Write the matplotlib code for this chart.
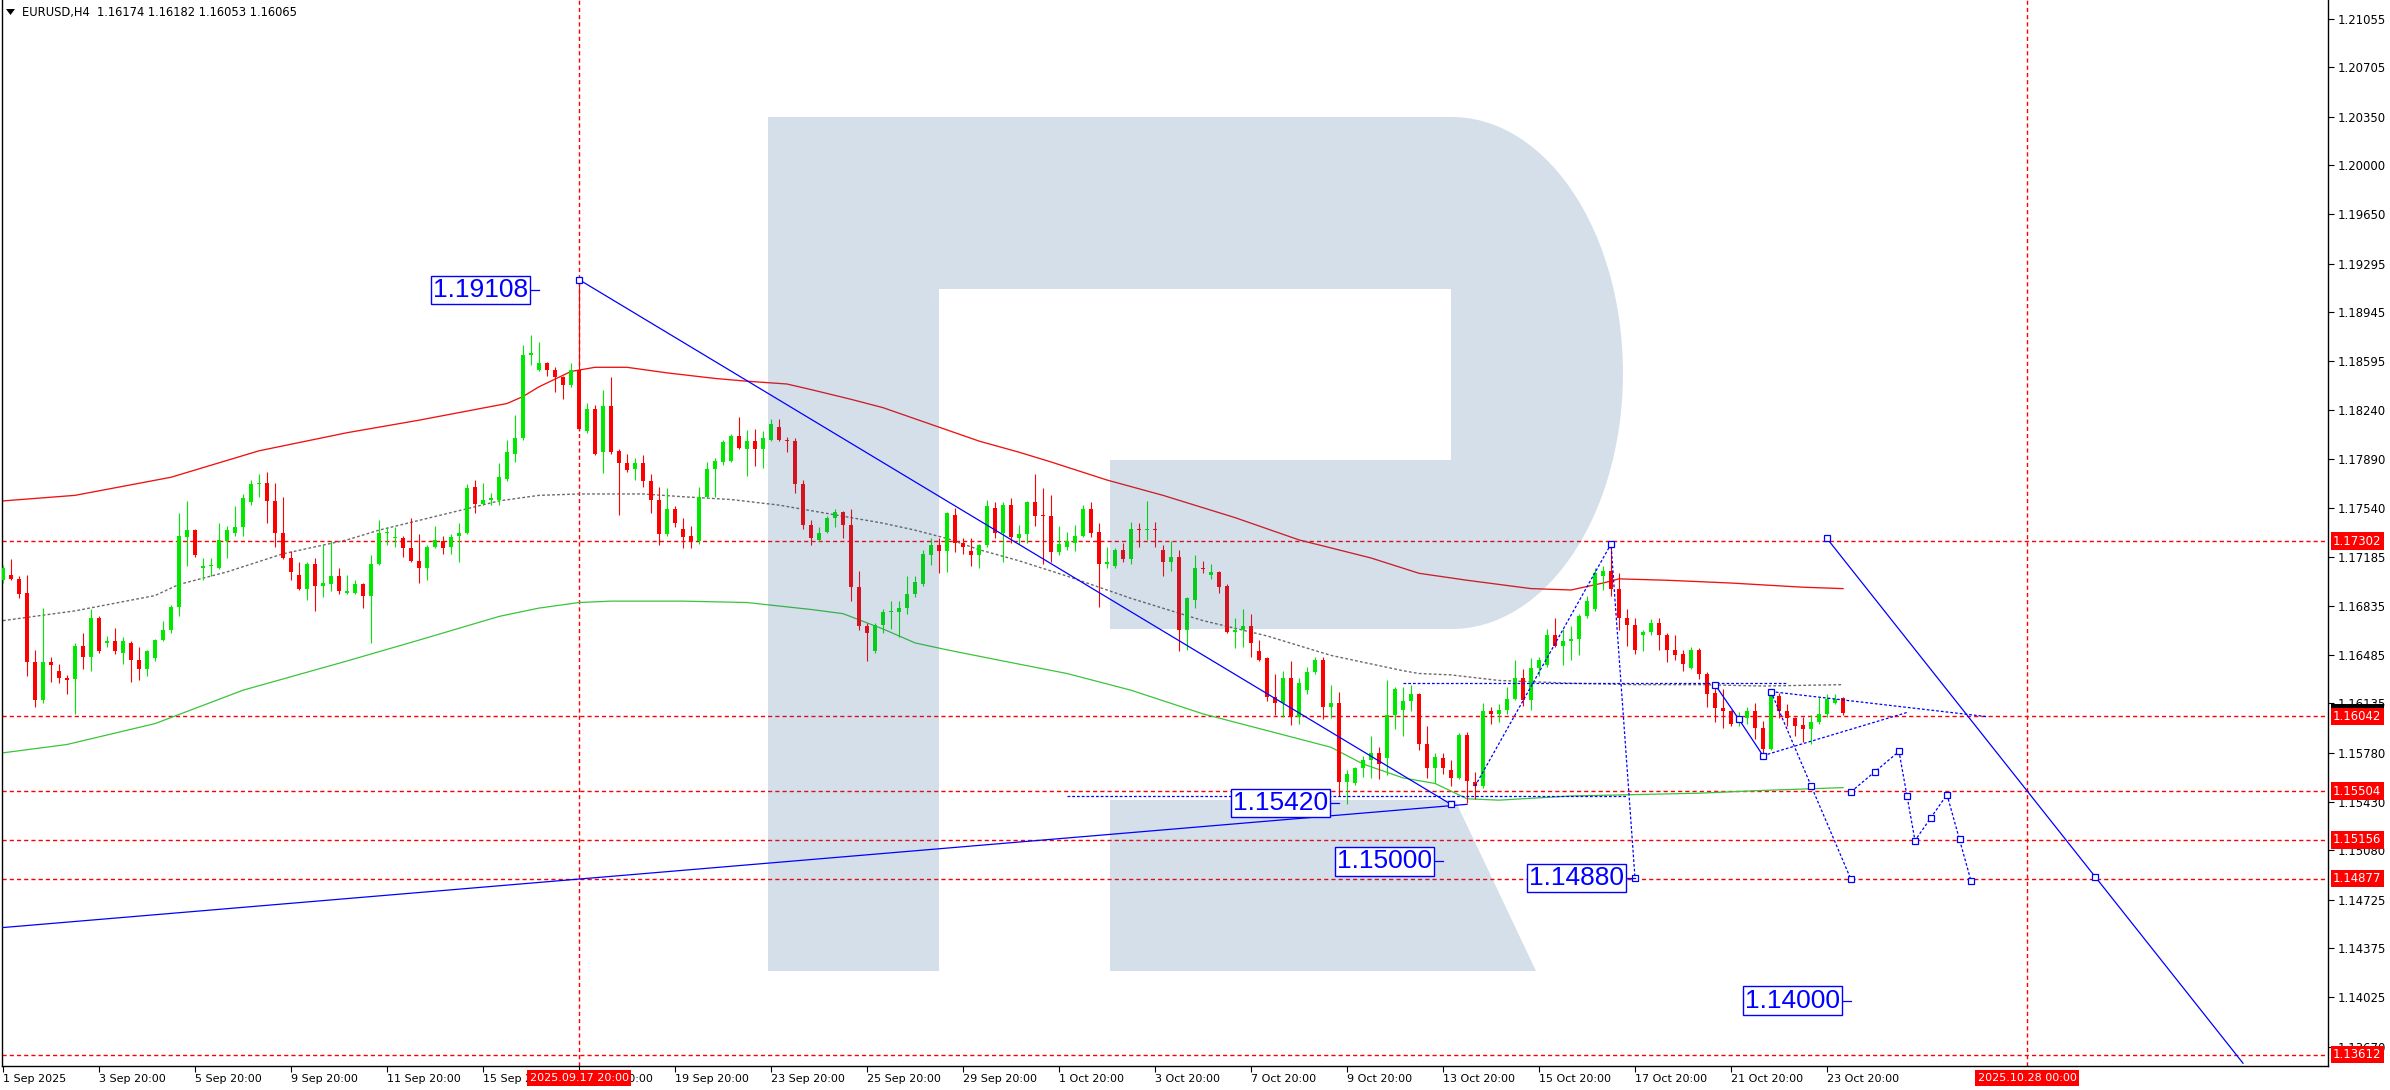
import numpy as np
import matplotlib
matplotlib.use("Agg")
import matplotlib.pyplot as plt
import matplotlib.transforms as mtransforms
from matplotlib.patches import Polygon

W, H, DPI = 2390, 1090, 100

# EURUSD H4 candles, bar 0 .. bar 230
opens = [
    1.1702, 1.1706, 1.1703, 1.1693, 1.1643, 1.1616, 1.1643, 1.1637, 1.1632, 1.1631,
    1.1655, 1.1647, 1.1675, 1.1657, 1.1658, 1.1650, 1.1657, 1.1645, 1.1638, 1.1646,
    1.1659, 1.1666, 1.1683, 1.1733, 1.1738, 1.1711, 1.1712, 1.1711, 1.1730, 1.1736,
    1.1740, 1.1758, 1.1771, 1.1772, 1.1759, 1.1736, 1.1718, 1.1706, 1.1696, 1.1714,
    1.1698, 1.1699, 1.1705, 1.1693, 1.1693, 1.1699, 1.1691, 1.1714, 1.1736, 1.1732,
    1.1732, 1.1725, 1.1716, 1.1711, 1.1726, 1.1730, 1.1726, 1.1734, 1.1736, 1.1769,
    1.1757, 1.1760, 1.1760, 1.1775, 1.1793, 1.1804, 1.1864, 1.1853, 1.1858, 1.1853,
    1.1848, 1.1842, 1.1853, 1.1809, 1.1825, 1.1794, 1.1827, 1.1795, 1.1786, 1.1782,
    1.1786, 1.1773, 1.1760, 1.1735, 1.1753, 1.1739, 1.1734, 1.1730, 1.1762, 1.1782,
    1.1787, 1.1788, 1.1806, 1.1796, 1.1802, 1.1796, 1.1803, 1.1812, 1.1803, 1.1802,
    1.1771, 1.1742, 1.1731, 1.1737, 1.1747, 1.1751, 1.1742, 1.1697, 1.1669, 1.1651,
    1.1670, 1.1679, 1.1679, 1.1682, 1.1692, 1.1699, 1.1720, 1.1727, 1.1723, 1.1749,
    1.1729, 1.1723, 1.1720, 1.1727, 1.1754, 1.1736, 1.1756, 1.1732, 1.1735, 1.1758,
    1.1749, 1.1748, 1.1722, 1.1726, 1.1729, 1.1734, 1.1753, 1.1737, 1.1714, 1.1712,
    1.1724, 1.1717, 1.1739, 1.1738, 1.1739, 1.1724, 1.1715, 1.1719, 1.1666, 1.1688,
    1.1711, 1.1706, 1.1708, 1.1698, 1.1665, 1.1666, 1.1669, 1.1651, 1.1646, 1.1618,
    1.1614, 1.1632, 1.1604, 1.1623, 1.1636, 1.1645, 1.1611, 1.1614, 1.1557, 1.1556,
    1.1567, 1.1573, 1.1578, 1.1574, 1.1605, 1.1609, 1.1615, 1.1620, 1.1584, 1.1567,
    1.1574, 1.1566, 1.1560, 1.1591, 1.1557, 1.1554, 1.1608, 1.1606, 1.1609, 1.1617,
    1.1632, 1.1616, 1.1639, 1.1641, 1.1663, 1.1655, 1.1658, 1.1660, 1.1676, 1.1681,
    1.1705, 1.1709, 1.1696, 1.1675, 1.1670, 1.1663, 1.1665, 1.1671, 1.1663, 1.1652,
    1.1649, 1.1639, 1.1652, 1.1635, 1.1621, 1.1610, 1.1608, 1.1600, 1.1603, 1.1608,
    1.1596, 1.1581, 1.1619, 1.1608, 1.1603, 1.1598, 1.1595, 1.1600, 1.1606, 1.1614,
    1.16174,
]
highs = [
    1.1713, 1.1717, 1.1705, 1.1706, 1.1652, 1.1682, 1.1647, 1.1642, 1.1634, 1.1657,
    1.1664, 1.1681, 1.1676, 1.1662, 1.1668, 1.1661, 1.1658, 1.1654, 1.1652, 1.1660,
    1.1673, 1.1684, 1.1750, 1.1759, 1.1739, 1.1718, 1.1718, 1.1743, 1.1741, 1.1755,
    1.1764, 1.1774, 1.1778, 1.1780, 1.1772, 1.1762, 1.1723, 1.1715, 1.1715, 1.1718,
    1.1727, 1.1730, 1.1711, 1.1706, 1.1702, 1.1700, 1.1720, 1.1745, 1.1740, 1.1740,
    1.1734, 1.1747, 1.1735, 1.1727, 1.1741, 1.1734, 1.1735, 1.1743, 1.1771, 1.1774,
    1.1772, 1.1765, 1.1786, 1.1803, 1.1821, 1.1871, 1.1878, 1.1873, 1.1859, 1.1855,
    1.1849, 1.1858, 1.1918, 1.1829, 1.1828, 1.1839, 1.1848, 1.1796, 1.1793, 1.1790,
    1.1792, 1.1778, 1.1769, 1.1768, 1.1755, 1.1747, 1.1741, 1.1769, 1.1787, 1.1790,
    1.1803, 1.1807, 1.1819, 1.1810, 1.1811, 1.1809, 1.1818, 1.1818, 1.1805, 1.1804,
    1.1774, 1.1745, 1.1740, 1.1748, 1.1753, 1.1752, 1.1753, 1.1709, 1.1671, 1.1671,
    1.1681, 1.1687, 1.1687, 1.1705, 1.1705, 1.1724, 1.1732, 1.1732, 1.1751, 1.1754,
    1.1732, 1.1732, 1.1728, 1.1760, 1.1758, 1.1758, 1.1761, 1.1742, 1.1759, 1.1778,
    1.1768, 1.1763, 1.1741, 1.1737, 1.1742, 1.1756, 1.1758, 1.1743, 1.1726, 1.1725,
    1.1729, 1.1744, 1.1743, 1.1759, 1.1744, 1.1727, 1.1730, 1.1724, 1.1690, 1.1720,
    1.1716, 1.1714, 1.1709, 1.1699, 1.1675, 1.1681, 1.1678, 1.1659, 1.1647, 1.1635,
    1.1637, 1.1644, 1.1632, 1.1640, 1.1647, 1.1647, 1.1627, 1.1622, 1.1566, 1.1568,
    1.1576, 1.1590, 1.1582, 1.1630, 1.1625, 1.1625, 1.1627, 1.1621, 1.1597, 1.1578,
    1.1578, 1.1573, 1.1592, 1.1593, 1.1564, 1.1614, 1.1611, 1.1613, 1.1625, 1.1645,
    1.1638, 1.1646, 1.1647, 1.1667, 1.1675, 1.1667, 1.1669, 1.1678, 1.1691, 1.1711,
    1.1712, 1.1727, 1.1707, 1.1681, 1.1675, 1.1666, 1.1674, 1.1675, 1.1664, 1.1663,
    1.1652, 1.1654, 1.1653, 1.1636, 1.1627, 1.1624, 1.1609, 1.1607, 1.1611, 1.1614,
    1.1601, 1.1623, 1.1621, 1.1613, 1.1604, 1.1604, 1.1605, 1.1618, 1.1620, 1.1620,
    1.16182,
]
lows = [
    1.1700, 1.1702, 1.1689, 1.1633, 1.1611, 1.1614, 1.1629, 1.1628, 1.1620, 1.1606,
    1.1638, 1.1637, 1.1650, 1.1654, 1.1649, 1.1642, 1.1629, 1.1630, 1.1633, 1.1644,
    1.1658, 1.1664, 1.1676, 1.1712, 1.1719, 1.1702, 1.1705, 1.1710, 1.1718, 1.1734,
    1.1734, 1.1756, 1.1762, 1.1743, 1.1726, 1.1717, 1.1702, 1.1695, 1.1688, 1.1680,
    1.1690, 1.1694, 1.1692, 1.1692, 1.1692, 1.1682, 1.1657, 1.1713, 1.1727, 1.1726,
    1.1719, 1.1715, 1.1700, 1.1702, 1.1725, 1.1721, 1.1721, 1.1715, 1.1735, 1.1750,
    1.1756, 1.1756, 1.1756, 1.1773, 1.1787, 1.1803, 1.1857, 1.1852, 1.1849, 1.1837,
    1.1832, 1.1841, 1.1809, 1.1808, 1.1792, 1.1779, 1.1793, 1.1749, 1.1780, 1.1774,
    1.1769, 1.1750, 1.1727, 1.1734, 1.1740, 1.1725, 1.1725, 1.1728, 1.1761, 1.1762,
    1.1785, 1.1787, 1.1796, 1.1777, 1.1784, 1.1783, 1.1802, 1.1802, 1.1794, 1.1765,
    1.1739, 1.1727, 1.1730, 1.1736, 1.1740, 1.1732, 1.1687, 1.1666, 1.1644, 1.1650,
    1.1664, 1.1667, 1.1661, 1.1678, 1.1690, 1.1698, 1.1713, 1.1707, 1.1708, 1.1722,
    1.1721, 1.1712, 1.1711, 1.1726, 1.1732, 1.1715, 1.1729, 1.1728, 1.1729, 1.1741,
    1.1714, 1.1715, 1.1720, 1.1724, 1.1723, 1.1733, 1.1733, 1.1683, 1.1711, 1.1711,
    1.1715, 1.1714, 1.1726, 1.1731, 1.1726, 1.1705, 1.1709, 1.1651, 1.1652, 1.1682,
    1.1707, 1.1703, 1.1693, 1.1664, 1.1653, 1.1654, 1.1647, 1.1644, 1.1615, 1.1605,
    1.1604, 1.1598, 1.1599, 1.1620, 1.1635, 1.1602, 1.1603, 1.1547, 1.1541, 1.1555,
    1.1561, 1.1560, 1.1559, 1.1562, 1.1595, 1.1590, 1.1608, 1.1580, 1.1560, 1.1556,
    1.1563, 1.1554, 1.1559, 1.1542, 1.1545, 1.1553, 1.1599, 1.1600, 1.1606, 1.1616,
    1.1612, 1.1609, 1.1633, 1.1640, 1.1654, 1.1641, 1.1645, 1.1648, 1.1675, 1.1680,
    1.1695, 1.1691, 1.1666, 1.1655, 1.1649, 1.1651, 1.1663, 1.1652, 1.1643, 1.1645,
    1.1637, 1.1638, 1.1631, 1.1611, 1.1600, 1.1596, 1.1597, 1.1597, 1.1599, 1.1588,
    1.1578, 1.1580, 1.1603, 1.1597, 1.1590, 1.1586, 1.1584, 1.1599, 1.1604, 1.1613,
    1.16053,
]
closes = [
    1.1711, 1.1703, 1.1692, 1.1643, 1.1616, 1.1643, 1.1641, 1.1632, 1.1630, 1.1655,
    1.1647, 1.1675, 1.1651, 1.1658, 1.1651, 1.1658, 1.1645, 1.1638, 1.1651, 1.1659,
    1.1666, 1.1683, 1.1734, 1.1738, 1.1720, 1.1712, 1.1713, 1.1731, 1.1738, 1.1740,
    1.1761, 1.1771, 1.1772, 1.1759, 1.1736, 1.1718, 1.1708, 1.1696, 1.1714, 1.1698,
    1.1700, 1.1705, 1.1694, 1.1694, 1.1699, 1.1691, 1.1714, 1.1736, 1.1737, 1.1733,
    1.1725, 1.1716, 1.1711, 1.1726, 1.1731, 1.1725, 1.1733, 1.1736, 1.1768, 1.1757,
    1.1760, 1.1761, 1.1776, 1.1794, 1.1804, 1.1864, 1.1865, 1.1858, 1.1853, 1.1848,
    1.1842, 1.1853, 1.1811, 1.1825, 1.1793, 1.1827, 1.1794, 1.1786, 1.1781, 1.1786,
    1.1773, 1.1760, 1.1735, 1.1753, 1.1743, 1.1733, 1.1730, 1.1762, 1.1782, 1.1788,
    1.1801, 1.1806, 1.1797, 1.1802, 1.1796, 1.1804, 1.1814, 1.1803, 1.1802, 1.1771,
    1.1742, 1.1732, 1.1736, 1.1747, 1.1751, 1.1742, 1.1697, 1.1669, 1.1664, 1.1670,
    1.1679, 1.1680, 1.1682, 1.1692, 1.1701, 1.1721, 1.1727, 1.1723, 1.1750, 1.1729,
    1.1726, 1.1720, 1.1727, 1.1755, 1.1736, 1.1756, 1.1733, 1.1735, 1.1758, 1.1748,
    1.1748, 1.1722, 1.1728, 1.1730, 1.1734, 1.1753, 1.1736, 1.1714, 1.1715, 1.1724,
    1.1717, 1.1739, 1.1738, 1.1739, 1.1738, 1.1715, 1.1719, 1.1666, 1.1689, 1.1711,
    1.1710, 1.1708, 1.1697, 1.1665, 1.1666, 1.1669, 1.1657, 1.1645, 1.1618, 1.1614,
    1.1632, 1.1604, 1.1628, 1.1636, 1.1645, 1.1611, 1.1614, 1.1557, 1.1563, 1.1567,
    1.1573, 1.1578, 1.1570, 1.1605, 1.1624, 1.1615, 1.1620, 1.1584, 1.1567, 1.1575,
    1.1567, 1.1560, 1.1591, 1.1558, 1.1554, 1.1608, 1.1606, 1.1609, 1.1617, 1.1632,
    1.1616, 1.1639, 1.1645, 1.1663, 1.1655, 1.1658, 1.1660, 1.1676, 1.1687, 1.1707,
    1.1709, 1.1696, 1.1675, 1.1670, 1.1652, 1.1665, 1.1671, 1.1663, 1.1652, 1.1648,
    1.1642, 1.1652, 1.1635, 1.1620, 1.1610, 1.1608, 1.1599, 1.1603, 1.1608, 1.1596,
    1.1581, 1.1619, 1.1608, 1.1603, 1.1597, 1.1595, 1.1600, 1.1606, 1.1617, 1.1617,
    1.16065,
]

# moving averages (bar, price)
ma_red_x = [0, 9, 21, 32, 43, 52, 63, 65, 67, 71, 74, 78, 83, 89, 93, 98, 101, 106, 110,
            114, 118, 122, 127, 131, 138, 145, 154, 162, 171, 177, 183, 191, 196, 200,
            202, 208, 216, 225, 230]
ma_red_y = [1.1759, 1.1763, 1.1776, 1.1795, 1.1808, 1.1817, 1.1829, 1.1834, 1.1841, 1.1852,
            1.1855, 1.1855, 1.1851, 1.1847, 1.1845, 1.1843, 1.1839, 1.1832, 1.1826, 1.1818,
            1.1810, 1.1802, 1.1794, 1.1787, 1.1774, 1.1763, 1.1747, 1.1731, 1.1718, 1.1707,
            1.1702, 1.1696, 1.1695, 1.1700, 1.1703, 1.1702, 1.1700, 1.1697, 1.1696]
ma_gray_x = [0, 9, 19, 22, 28, 35, 43, 47, 52, 57, 62, 67, 72, 80, 85, 91, 97, 103, 110,
             114, 118, 122, 127, 133, 141, 150, 158, 166, 175, 177, 181, 187, 196, 204,
             212, 220, 230]
ma_gray_y = [1.1673, 1.1680, 1.1691, 1.1699, 1.1708, 1.1721, 1.1731, 1.1738, 1.1745, 1.1752,
             1.1759, 1.1763, 1.1764, 1.1764, 1.1762, 1.1760, 1.1756, 1.1750, 1.1743, 1.1738,
             1.1732, 1.1724, 1.1716, 1.1705, 1.1689, 1.1673, 1.1662, 1.1648, 1.1637, 1.1635,
             1.1634, 1.1630, 1.1628, 1.1627, 1.1627, 1.1626, 1.1627]
ma_green_x = [0, 8, 19, 30, 43, 52, 62, 67, 72, 76, 85, 93, 101, 105, 110, 114, 118, 125,
              133, 141, 150, 158, 166, 170, 175, 179, 183, 187, 196, 204, 212, 220, 230]
ma_green_y = [1.1578, 1.1584, 1.1599, 1.1623, 1.1644, 1.1659, 1.1676, 1.1682, 1.1686, 1.1687,
              1.1687, 1.1686, 1.1681, 1.1678, 1.1667, 1.1657, 1.1652, 1.1644, 1.1635, 1.1623,
              1.1606, 1.1594, 1.1582, 1.1570, 1.1560, 1.1556, 1.1545, 1.1544, 1.1547, 1.1548,
              1.1549, 1.1551, 1.1553]

levels = [1.17302, 1.16042, 1.15504, 1.15156, 1.14877, 1.13612]
last_price = 1.16065
time_marks = [72, 253]
time_mark_labels = ["2025.09.17 20:00", "2025.10.28 00:00"]

price_ticks = [1.21055, 1.20705, 1.20350, 1.20000, 1.19650, 1.19295, 1.18945, 1.18595,
               1.18240, 1.17890, 1.17540, 1.17185, 1.16835, 1.16485, 1.16135, 1.15780,
               1.15430, 1.15080, 1.14725, 1.14375, 1.14025, 1.13670]
time_labels = ["1 Sep 2025", "3 Sep 20:00", "5 Sep 20:00", "9 Sep 20:00", "11 Sep 20:00",
               "15 Sep 20:00", "17 Sep 20:00", "19 Sep 20:00", "23 Sep 20:00", "25 Sep 20:00",
               "29 Sep 20:00", "1 Oct 20:00", "3 Oct 20:00", "7 Oct 20:00", "9 Oct 20:00",
               "13 Oct 20:00", "15 Oct 20:00", "17 Oct 20:00", "21 Oct 20:00", "23 Oct 20:00"]
bars_per_label = 12

# analyst drawings (bar, price)
solid_lines = [
    ([72, 181], [1.1918, 1.1541]),
    ([-1, 183], [1.1452, 1.1541]),
    ([214, 217, 220], [1.1627, 1.1602, 1.1576]),
    ([228, 280], [1.1732, 1.1355]),
]
dashed_lines = [
    ([184, 201, 204], [1.1554, 1.1728, 1.1488]),
    ([175, 223], [1.1628, 1.1628]),
    ([133, 203], [1.1547, 1.1547]),
    ([221, 248], [1.1622, 1.1604]),
    ([220, 238], [1.1576, 1.1607]),
    ([221, 231], [1.1622, 1.1487]),
    ([231, 237, 239, 243, 246], [1.1550, 1.1579, 1.1515, 1.1548, 1.1486]),
]
anchor_x = [72, 181, 201, 204, 214, 217, 220, 221, 226, 231, 228, 261.5,
            231, 234, 237, 238, 239, 241, 243, 244.6, 246]
anchor_y = [1.1918, 1.1541, 1.1728, 1.1488, 1.1627, 1.1602, 1.1576, 1.1622, 1.1554, 1.1487,
            1.1732, 1.1489, 1.1550, 1.1564, 1.1579, 1.1547, 1.1515, 1.1531, 1.1548, 1.1516,
            1.1486]
label_bar = [67, 167, 180, 204, 231]
label_val = [1.19108, 1.15420, 1.15000, 1.14880, 1.14000]

RED = "#ff0000"
GREEN = "#00e800"
BLUE = "#0000ff"

fig = plt.figure(figsize=(W / DPI, H / DPI), dpi=DPI)
AX_L, AX_R, AX_B = 2, 2328, 1066
ax = fig.add_axes([AX_L / W, (H - AX_B) / H, (AX_R - AX_L) / W, AX_B / H])
ax.set_xlim(-0.125, 290.625)
ax.set_ylim(1.13530, 1.21189)

# level lines and time marks
for lv in levels:
    ax.axhline(lv, color=RED, lw=1.0, ls=(0, (3, 2.2)), zorder=1)
for tm in time_marks:
    ax.axvline(tm, color=RED, lw=1.0, ls=(0, (3, 2.2)), zorder=1)

# moving averages
ax.plot(ma_red_x, ma_red_y, color="#f01010", lw=0.95, zorder=2)
ax.plot(ma_gray_x, ma_gray_y, color="#6a6a6a", lw=1.0, ls=(0, (2, 1.6)), zorder=2)
ax.plot(ma_green_x, ma_green_y, color="#3ac43a", lw=0.9, zorder=2)

# candles
o, hi, lo, c = map(np.array, (opens, highs, lows, closes))
idx = np.arange(len(o))
cols = np.where(c >= o, GREEN, RED)
ax.vlines(idx, np.minimum(lo, np.minimum(o, c)), np.maximum(hi, np.maximum(o, c)),
          colors=cols, lw=0.8, zorder=3)
ax.bar(idx, np.maximum(np.abs(c - o), 0.00008), bottom=np.minimum(o, c), width=0.62,
       color=cols, linewidth=0, zorder=3)

# watermark logo, drawn in figure pixels
def to_fig(pts):
    return [(x / W, 1 - y / H) for x, y in pts]

t = np.linspace(np.pi / 2, -np.pi / 2, 60)
arc = [(1452 + 171 * np.cos(a), 373 - 256 * np.sin(a)) for a in t]
bowl = [(768, 117)] + arc + [(1110, 629), (1110, 460), (1451, 460), (1451, 289),
                             (939, 289), (939, 971), (768, 971)]
leg = [(1110, 800), (1455, 800), (1536, 971), (1110, 971)]
for shape in (bowl, leg):
    ax.add_patch(Polygon(to_fig(shape), closed=True, facecolor="#2d5f96", alpha=0.2,
                         edgecolor="none", transform=fig.transFigure, zorder=3.5))

# drawings
for xs, ys in solid_lines:
    ax.plot(xs, ys, color=BLUE, lw=0.9, zorder=4)
for xs, ys in dashed_lines:
    ax.plot(xs, ys, color=BLUE, lw=0.9, ls=(0, (2.2, 1.6)), zorder=4)
ax.plot(anchor_x, anchor_y, ls="none", marker="s", ms=4.5, mfc="white", mec=BLUE,
        mew=0.9, zorder=4.5)
for b, v in zip(label_bar, label_val):
    ax.plot([b - 1.25, b], [v, v], color=BLUE, lw=0.9, zorder=5)
    ax.text(b - 1.4, v, f"{v:.5f}", ha="right", va="center", color=BLUE, fontsize=19,
            family=["Liberation Sans", "DejaVu Sans"], zorder=5,
            bbox=dict(boxstyle="square,pad=0.08", fc="white", ec=BLUE, lw=1.0))

# axes styling
ax.spines["top"].set_visible(False)
for side in ("left", "right", "bottom"):
    ax.spines[side].set_linewidth(1.0)
    ax.spines[side].set_color("black")

ax.yaxis.tick_right()
ax.set_yticks(price_ticks)
ax.set_yticklabels([f"{v:.5f}" for v in price_ticks])
ax.tick_params(axis="y", direction="out", length=4, width=0.8, pad=3, labelsize=8.4)

ax.set_xticks([i * bars_per_label for i in range(len(time_labels))])
ax.set_xticklabels(time_labels, ha="left")
ax.tick_params(axis="x", direction="out", length=4, width=0.8, pad=2, labelsize=8)

ymix = mtransforms.blended_transform_factory(ax.transAxes, ax.transData)
ax.text(1.0022, last_price, f"{last_price:.5f}", transform=ymix, ha="left", va="center",
        color="white", fontsize=8.4, clip_on=False, zorder=6,
        bbox=dict(boxstyle="square,pad=0.2", fc="black", ec="none"))
for lv in levels:
    ax.text(1.0022, lv, f"{lv:.5f}", transform=ymix, ha="left", va="center",
            color="white", fontsize=8.4, clip_on=False, zorder=7,
            bbox=dict(boxstyle="square,pad=0.2", fc=RED, ec="none"))

xmix = mtransforms.blended_transform_factory(ax.transData, ax.transAxes)
for tm, lab in zip(time_marks, time_mark_labels):
    ax.text(tm, -0.0113, lab, transform=xmix, ha="center", va="center", color="white",
            fontsize=8, clip_on=False, zorder=7,
            bbox=dict(boxstyle="square,pad=0.25", fc=RED, ec="none"))

# header
fig.patches.append(Polygon(to_fig([(6, 9), (15, 9), (10.5, 15)]), closed=True,
                           facecolor="black", edgecolor="none", transform=fig.transFigure))
fig.text(22 / W, 1 - 12.5 / H, "EURUSD,H4  1.16174 1.16182 1.16053 1.16065",
         ha="left", va="center", fontsize=8.3, color="black")

fig.savefig("out.png", dpi=DPI, facecolor="white")
